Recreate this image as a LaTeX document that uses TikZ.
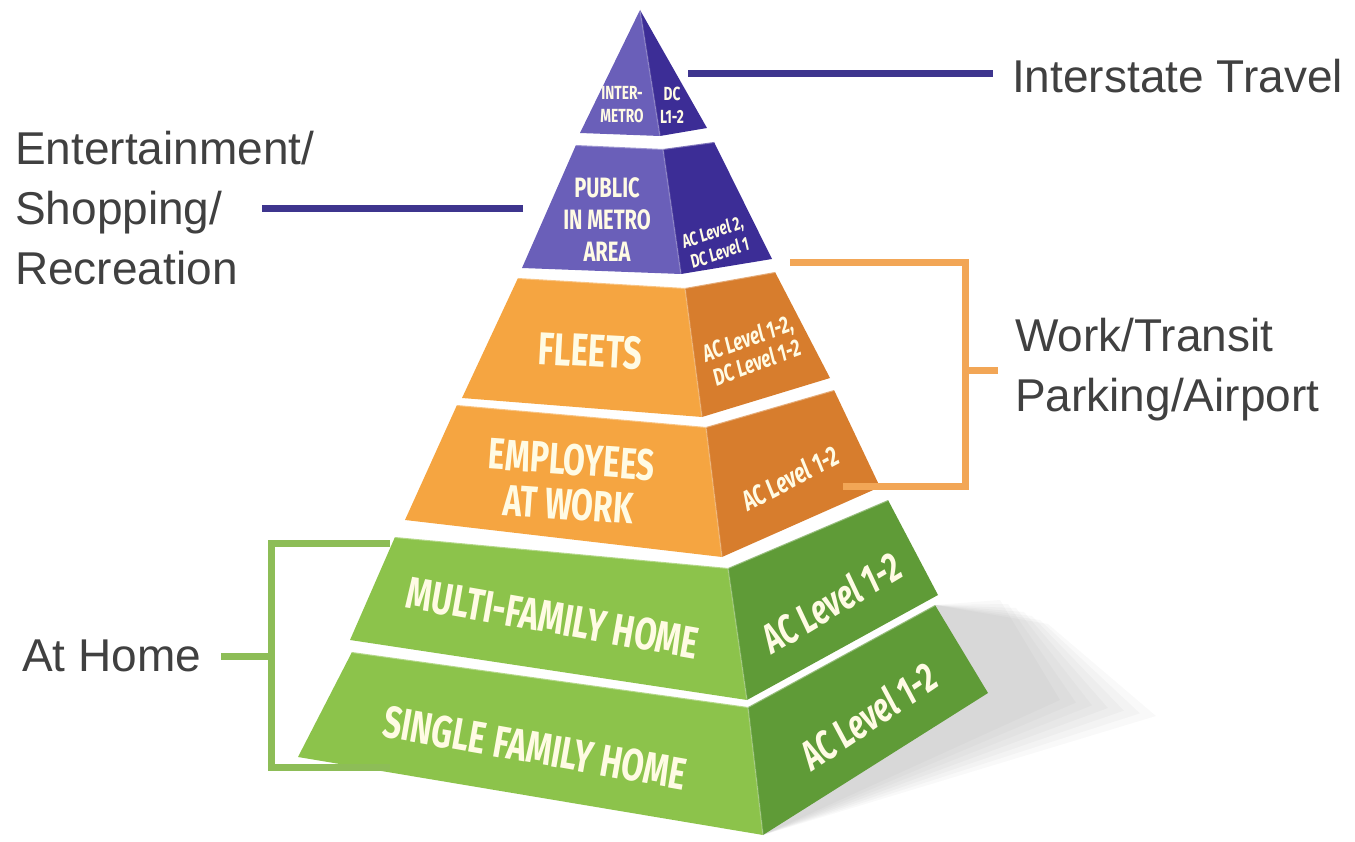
\documentclass[tikz,border=0pt]{standalone}
\usepackage{fontspec}
\setmainfont{Liberation Sans}
\newfontfamily\tierfont[FakeStretch=0.72]{Fira Sans}

\definecolor{purpleF}{HTML}{6A5FB9}
\definecolor{purpleS}{HTML}{3C2D96}
\definecolor{orangeF}{HTML}{F5A541}
\definecolor{orangeS}{HTML}{D77D2D}
\definecolor{greenF}{HTML}{8CC34B}
\definecolor{greenS}{HTML}{5F9B37}
\definecolor{purpleline}{HTML}{3E358E}
\definecolor{orangeline}{HTML}{F2A656}
\definecolor{greenline}{HTML}{8DBD57}
\definecolor{cream}{HTML}{FFFBE4}
\definecolor{labelgray}{HTML}{404040}

% one slab of the pyramid: #1 prefix, #2 front colour, #3 side colour
\newcommand{\slab}[3]{%
  \fill[#2] (#1tl) -- (#1tm) -- (#1bm) -- (#1bl) -- cycle;
  \fill[#3] (#1tm) -- (#1tr) -- (#1br) -- (#1bm) -- cycle;
  \draw[white,opacity=.35,line width=2pt] (#1tl) -- (#1tm) -- (#1tr);
  \draw[white,opacity=.2,line width=1.5pt] (#1tm) -- (#1bm);
}

\begin{document}
\begin{tikzpicture}[x=1pt,y=-1pt,
    tiertext/.style 2 args={text=cream,align=center,inner sep=0pt,
      font=\tierfont\bfseries\fontsize{#1}{#2}\selectfont},
    sidetext/.style 2 args={text=cream,align=center,inner sep=0pt,
      font=\tierfont\bfseries\itshape\fontsize{#1}{#2}\selectfont},
    usecase/.style={text=labelgray,align=left,anchor=west,inner sep=0pt,
      font=\fontsize{46}{60}\selectfont},
    leader/.style={line width=7pt}]
  \useasboundingbox (0,0) rectangle (1355,842);

  % corners of the slabs
  \coordinate (apex) at (640,10);
  \coordinate (itbl) at (580,133); \coordinate (itbm) at (660,136); \coordinate (itbr) at (707,128);
  \coordinate (putl) at (576,145); \coordinate (putm) at (663,149); \coordinate (putr) at (714,142);
  \coordinate (publ) at (522,268); \coordinate (pubm) at (681,274); \coordinate (pubr) at (772,259);
  \coordinate (fltl) at (518,278); \coordinate (fltm) at (685,288); \coordinate (fltr) at (775,272);
  \coordinate (flbl) at (462,398); \coordinate (flbm) at (702,417); \coordinate (flbr) at (830,378);
  \coordinate (emtl) at (457,405); \coordinate (emtm) at (706,427); \coordinate (emtr) at (834,390);
  \coordinate (embl) at (405,520); \coordinate (embm) at (722,557); \coordinate (embr) at (880,487);
  \coordinate (mutl) at (395,537); \coordinate (mutm) at (728,568); \coordinate (mutr) at (888,500);
  \coordinate (mubl) at (350,640); \coordinate (mubm) at (747,700); \coordinate (mubr) at (938,595);
  \coordinate (sitl) at (352,652); \coordinate (sitm) at (748,707); \coordinate (sitr) at (935,605);
  \coordinate (sibl) at (298,757); \coordinate (sibm) at (763,835); \coordinate (sibr) at (988,693);

  % soft shadow on the right
  \foreach \s in {0,8,...,48}
    \fill[black,opacity=.025] (sitr) -- (1000+\s,600+\s/2) -- (1060+2*\s,700+\s/3) -- (sibm);

  % top slab
  \fill[purpleF] (apex) -- (itbm) -- (itbl) -- cycle;
  \fill[purpleS] (apex) -- (itbr) -- (itbm) -- cycle;
  \draw[white,opacity=.2,line width=1.5pt] (apex) -- (itbm);
  \slab{pu}{purpleF}{purpleS}
  \slab{fl}{orangeF}{orangeS}
  \slab{em}{orangeF}{orangeS}
  \slab{mu}{greenF}{greenS}
  \slab{si}{greenF}{greenS}

  % texts on the faces
  \node[tiertext={19}{23}] (itF) at (622,105) {INTER-\\METRO};
  \node[tiertext={19}{23}] (itS) at (672,105) {DC\\L1-2};
  \node[tiertext={28}{32}] (puF) at (607,220) {PUBLIC\\IN METRO\\AREA};
  \node[sidetext={19}{22},rotate=19] (puS) at (716,242) {AC Level 2,\\DC Level 1};
  \node[tiertext={46}{46},rotate=-3] (flF) at (590,351) {FLEETS};
  \node[sidetext={24}{26},rotate=20] (flS) at (752,350) {AC Level 1-2,\\DC Level 1-2};
  \node[tiertext={44}{45},rotate=-4] (emF) at (570,482) {EMPLOYEES\\AT WORK};
  \node[sidetext={28}{30},rotate=28] (emS) at (790,478) {AC Level 1-2};
  \node[tiertext={45}{45},rotate=-10] (muF) at (553,618) {MULTI-FAMILY HOME};
  \node[sidetext={41}{42},rotate=31] (muS) at (831,602) {AC Level 1-2};
  \node[tiertext={45}{45},rotate=-10] (siF) at (535,748) {SINGLE FAMILY HOME};
  \node[sidetext={41}{42},rotate=34] (siS) at (868,716) {AC Level 1-2};

  % use cases
  \node[usecase] (interstate) at (1012,76) {Interstate Travel};
  \node[usecase] (fun) at (15,208) {Entertainment/\\Shopping/\\Recreation};
  \node[usecase] (work) at (1015,370) {Work/Transit\\Parking/Airport};
  \node[usecase] (home) at (22,656) {At Home};

  % leader lines
  \coordinate (it-tip) at (688,74);
  \coordinate (fun-tip) at (523,209);
  \coordinate (fun-end) at (262,209);
  \coordinate (wk-top) at (790,263);
  \coordinate (wk-hi) at (965,263);
  \coordinate (wk-lo) at (965,486);
  \coordinate (wk-bot) at (843,486);
  \coordinate (gr-top) at (390,543);
  \coordinate (gr-hi) at (271,543);
  \coordinate (gr-lo) at (271,767);
  \coordinate (gr-bot) at (390,767);
  \draw[leader,purpleline,shorten >=19pt] (it-tip) -- (it-tip -| interstate.west);
  \draw[leader,purpleline] (fun-tip) -- (fun-end);
  \draw[leader,orangeline] (wk-top) -- (wk-hi) -- (wk-lo) -- (wk-bot);
  \draw[leader,orangeline,shorten >=17pt] (wk-hi |- work.west) -- (work.west);
  \draw[leader,greenline] (gr-top) -- (gr-hi) -- (gr-lo) -- (gr-bot);
  \draw[leader,greenline,shorten <=20pt] (home.east) -- (home.east -| gr-hi);
\end{tikzpicture}
\end{document}
